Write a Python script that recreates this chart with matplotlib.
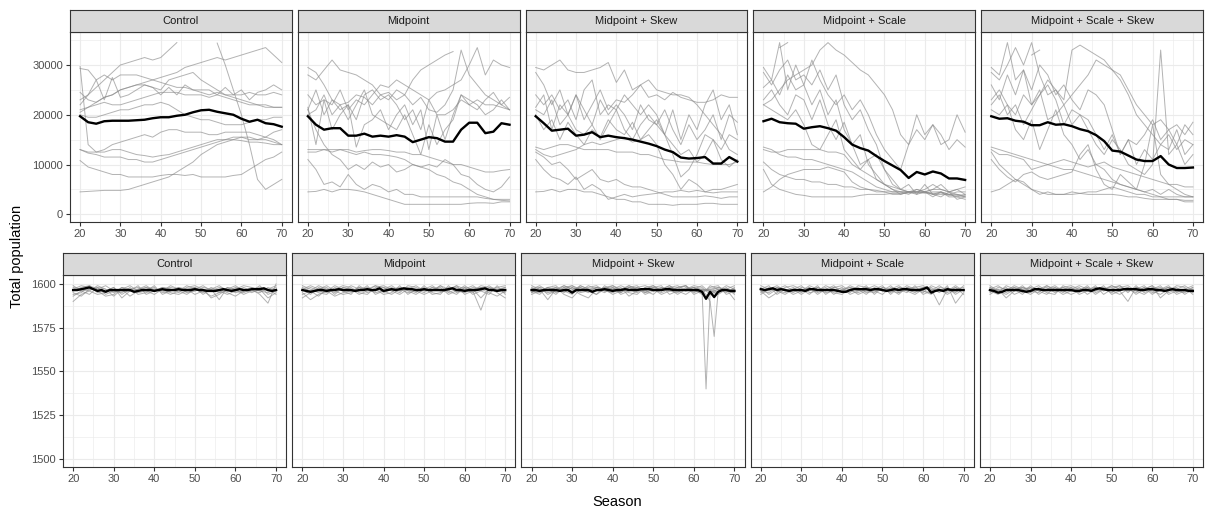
import numpy as np
import matplotlib
matplotlib.use('Agg')
import matplotlib.pyplot as plt
from matplotlib.ticker import MultipleLocator

plt.rcParams['font.family'] = ['Liberation Sans', 'DejaVu Sans']

nan = np.nan

panel_titles = ['Control', 'Midpoint', 'Midpoint + Skew', 'Midpoint + Scale', 'Midpoint + Scale + Skew']
seasons = list(range(20, 71, 2))
seasons_fine = list(range(20, 71))

# ---- top row: total population (thousands), one list per run ----
control_runs = [
    [29.7, 14, 12.5, 12.5, 13, 13, 12.5, 12, 11.8, 11.5, 11.8, 12, 12.5, 13, 13.5, 14, 14.5, 15, 15, 15, 14.8, 14.5, 14.5, 14.3, 14, 14],
    [29.3, 29, 27, 28, 27, 28, 28, 28, 27.5, 27, 26.5, 26, 25.5, 25.5, 25, 24.5, 24, 24.5, 24, 24, 24, 24.5, 24, 24, 24.5, 24],
    [23, 24, 25.5, 27, 28.5, 30, 30.5, 31, 31.5, 31, 31.5, 33, 34.5, nan, nan, nan, nan, nan, nan, nan, nan, nan, nan, nan, nan, nan],
    [nan, nan, nan, nan, nan, nan, nan, nan, nan, nan, nan, nan, nan, nan, nan, nan, nan, 34.4, 30, 25, 20, 14, 7, 5, 6, 7],
    [21, 21.5, 22.5, 23.5, 24, 25, 25.5, 26, 26.5, 27, 27.5, 28, 28.5, 29.5, 30, 30.5, 31, 31.5, 31, 31.5, 32, 32.5, 33, 33.5, 32, 30.5],
    [22, 24, 27, 23, 27.5, 23.5, 24, 25, 26, 25.5, 24, 25.5, 24, 26, 25, 25, 25, 24, 25.5, 24, 25, 23, 24.5, 25, 26, 25],
    [20.5, 21.5, 22, 22.5, 22, 22, 22.5, 23, 23.5, 24, 24.5, 24.5, 24.5, 24, 24, 24, 23.5, 24, 23.5, 23, 22.5, 22, 22, 21.5, 21.5, 21.5],
    [20, 19.5, 19.5, 20, 20.5, 21, 21, 21.5, 22, 22, 22.5, 22, 21, 20, 19.5, 19, 19, 18.5, 18, 18, 18, 18.5, 19, 19, 19.5, 19.5],
    [13, 12.5, 12.5, 13, 14, 14.5, 15, 15.5, 16, 15.5, 16.5, 17, 17, 16.5, 16.5, 16.5, 16, 16, 16.5, 16.5, 16.5, 16.5, 16, 15.5, 15, 14],
    [13, 12.3, 12, 11.5, 11.5, 11.5, 11, 11, 10.5, 10.5, 11, 11.5, 12, 12.5, 13, 13.5, 14, 14.5, 15, 15.5, 15.5, 15, 15, 15.5, 16.5, 17],
    [10.8, 9.5, 9, 8.5, 8, 8, 7.5, 7.5, 7.5, 7.5, 7.8, 8, 8, 7.8, 8, 7.5, 7.5, 7.5, 7.5, 7.8, 8, 9, 10, 11, 11.5, 12.5],
    [4.5, 4.6, 4.7, 4.8, 4.8, 4.8, 5, 5.5, 6, 6.5, 7, 7.5, 8.5, 9.5, 10.5, 12, 13, 14, 14.5, 15, 15.5, 15.5, 15, 15, 14.5, 14],
    [24.5, 23, 22.5, 23.5, 24, 25, 25.5, 26, 26, 25.5, 25, 27, 27.5, 28, 28.5, 27, 26, 25, 24, 23.5, 23, 22.5, 22, 22, 21.5, 21.5],
]
control_mean = [19.7, 18.5, 18.2, 18.7, 18.8, 18.8, 18.8, 18.9, 19.0, 19.3, 19.5, 19.5, 19.8, 20.0, 20.5, 20.9, 21.0, 20.6, 20.3, 20.0, 19.2, 18.6, 19.0, 18.3, 18.1, 17.6]

midpoint_runs = [
    [28, 27, 29, 31, 29, 28.5, 28, 27, 26, 24, 24.5, 23, 24, 22, 23.5, 21, 20.5, 22, 25, 33, 28, 26, 24, 23, 22, 21],
    [29.5, 28.5, 26, 23, 22, 22.5, 24, 23.5, 22, 24, 23, 25, 24, 27, 29, 30, 31, 32, 32.7, nan, nan, nan, nan, nan, nan, nan],
    [24, 22, 23, 22, 25, 21, 23, 22, 24, 26, 25.5, 27, 26, 25, 24, 23, 24.5, 25, 26, 27, 30, 33.5, 28, 31, 30, 29.5],
    [21, 25, 20, 23, 21, 22, 19, 24, 25, 23, 24, 22, 19, 21, 17, 23, 20, 20, 21, 23, 22, 21, 23, 24.5, 22, 23.5],
    [20, 21, 24, 20, 22, 19, 22, 25, 20, 19, 18, 17, 20, 16, 12, 18, 14, 17, 19, 24, 23, 22, 20, 21, 23, 21],
    [21.5, 14, 23, 17, 20, 22, 13.5, 18, 19, 21, 17, 20, 22, 18, 21, 13, 20, 15, 20, 24, 22, 23, 22, 22, 21.5, 21],
    [13, 13, 13, 13, 13, 13, 12.5, 12.8, 13, 13, 12.8, 12.5, 12.5, 12, 12, 11.5, 11, 10.5, 10, 10, 9.5, 9, 8.5, 8.5, 8.8, 9],
    [12.5, 12.5, 13, 12.5, 13, 12.5, 12, 12.5, 12, 12, 11.8, 11.5, 11, 10, 9.5, 9, 8, 7.5, 6.5, 6, 5, 4, 3.5, 3, 3, 3],
    [11, 9, 6, 6.5, 5.5, 8, 6, 5, 6, 5.5, 4.5, 5, 4, 4, 3.5, 3.5, 3.5, 3.5, 3.5, 3.5, 3.5, 3.5, 3.2, 3, 2.8, 2.7],
    [4.5, 4.6, 5, 4.5, 5, 5, 4.8, 4.5, 4, 3.5, 3, 2.5, 2, 2, 2, 2, 2, 2, 2, 2, 2.2, 2.3, 2.3, 2.2, 2.5, 2.5],
    [21, 17, 14, 12, 11, 9, 10, 9, 10.5, 9.5, 10, 8.5, 9, 10, 9.5, 10, 9.5, 11, 10, 8, 7.5, 6, 5, 4.5, 5.5, 7.5],
]
midpoint_mean = [19.7, 18.0, 17.0, 17.3, 17.3, 15.8, 15.8, 16.2, 15.6, 15.8, 15.6, 15.9, 15.6, 14.5, 15.0, 15.5, 15.3, 14.6, 14.6, 17.0, 18.4, 18.4, 16.3, 16.6, 18.3, 18.0]

skew_runs = [
    [29.5, 29, 30, 31, 29, 28.5, 28.5, 29, 29.5, 30.5, 26.5, 29, 25, 26, 23.5, 24, 23, 24.5, 23.5, 23, 22.5, 22.5, 23, 24, 23.5, 23.5],
    [28.5, 26, 22, 25, 20, 24, 19, 22, 25, 21, 23, 22.5, 24, 26, 27, 25, 24.5, 24, 24, 23.5, 22, 20, 18, 16, 13, 12],
    [24, 22, 24, 21, 23, 19, 25, 27, 20, 22, 21, 24, 22, 20, 22, 20, 16, 21, 15, 20, 17, 22, 25, 19, 22, 16],
    [21.5, 24, 17, 22, 20, 24, 21, 18, 23, 20, 22, 20, 17, 22, 19, 18, 21, 17, 14, 18, 15, 17, 20, 15, 20, 18.5],
    [21, 20, 23, 18, 20, 17, 16, 18, 15, 18, 21, 17, 15, 18, 20, 18, 16, 12, 7.5, 9, 12, 16, 15, 13, 16, 15],
    [13.5, 13, 13.5, 14, 14, 13.5, 13, 13, 13, 13, 12.5, 12.5, 12.5, 12, 12, 11.5, 11, 10.8, 10.5, 10.5, 10.5, 10.2, 10, 10, 10, 10.5],
    [13, 12, 11.5, 12, 12.5, 13, 14, 14.5, 14, 14.5, 15, 15.5, 14.5, 15, 16, 14, 10, 8, 5, 7, 6, 4.5, 5, 5, 5.5, 6],
    [11, 9, 7.5, 7, 6, 7.5, 5, 6, 5, 3, 3.5, 4, 3.5, 3.8, 4, 4.2, 4.5, 4.5, 4.8, 4.5, 4.8, 4.5, 4.3, 4.5, 4.5, 4.5],
    [12.5, 11.5, 10, 10.5, 9, 7, 8, 9, 7, 6.5, 7, 6, 5.5, 5.5, 5, 4.5, 4, 3.5, 3.5, 3.5, 3.5, 3.7, 3.5, 3.2, 3.5, 3.5],
    [4.5, 4.6, 5, 4.5, 5, 5, 4.5, 4.5, 4, 3.5, 3, 3, 2.5, 2.5, 2, 2, 2, 1.8, 2, 2, 2, 2.2, 2.2, 2, 2, 2],
    [20, 17, 19, 15, 18.5, 16, 14, 17, 15.5, 19, 17, 16, 18.5, 15, 17, 19, 16, 14, 12, 13, 10.5, 12, 15, 11, 9.5, 11],
]
skew_mean = [19.7, 18.3, 16.8, 17.0, 17.2, 15.8, 16.0, 16.5, 15.5, 15.8, 15.5, 15.3, 15.0, 14.6, 14.2, 13.7, 13.0, 12.5, 11.4, 11.2, 11.3, 11.5, 10.2, 10.2, 11.5, 10.6]

scale_runs = [
    [22, 23, 25, 27, 28, 29, 30, 33, 34.5, 33, 32, 30.5, 29, 28, 26, 24, 21, 16, 14, 20, 16, 18, 14, 15, 20, 16.5],
    [29.5, 27, 34.5, 25, 30, 26, 31, 27, 24, 22, 24, 21, 23, 20, 16, 13, 11, 9, 14, 17, 15, 18, 16, 13, 15, 13.5],
    [28.5, 26, 29, 31, 27, 28, 26, 29, 25, 28, 22, 19, 21, 17, 14, 9, 7, 5, 4.5, 4.5, 5, 6, 5, 4.5, 4, 3.5],
    [25.5, 27, 24, 28, 25, 26, 22, 25, 20, 23, 17, 14, 10, 11, 7, 6, 5, 4.5, 4, 5, 4.5, 3.5, 4.5, 3.5, 3.5, 3],
    [23, 25, 22, 20, 24, 23, 19, 23, 18, 15, 18.5, 14, 16, 10, 8, 6, 5, 4, 4.5, 4, 6, 4, 3.5, 4.5, 5, 4],
    [22, 21, 20, 19, 21, 18, 14, 13, 16, 19, 13, 11, 9, 11, 12, 9, 6, 5, 6, 4, 4.5, 5, 6, 4.5, 3, 3.5],
    [13, 12.5, 12.5, 13, 13, 13, 13, 13, 12.5, 12.5, 12, 10, 9, 8, 7, 6, 5.5, 5, 4.5, 4.5, 4.5, 4, 4, 4, 3.8, 3.5],
    [13.5, 13, 12, 11.5, 11.5, 11, 11, 10.5, 10, 9.5, 9, 8.5, 7.5, 6.5, 5.5, 5, 4.5, 4.5, 4.5, 5, 4.5, 5, 5, 4.5, 5, 5.5],
    [10.5, 9, 8, 7.5, 7, 7, 6.5, 6.5, 6, 6, 5.5, 5.5, 5, 5, 4.8, 4.5, 4.5, 4.5, 4.5, 4.5, 4.3, 4.5, 4.5, 4, 3.5, 4],
    [4.5, 5.5, 7, 8, 8.5, 9, 9, 9, 9.5, 9, 8.5, 6.5, 5.5, 5, 4.5, 4.5, 4, 4, 4.5, 4.5, 4.5, 4, 4.5, 4, 4.5, 4.5],
    [9, 6, 5, 4.5, 4, 3.8, 3.5, 3.5, 3.5, 3.5, 3.5, 3.5, 3.8, 4, 4, 4, 4.2, 4.2, 4.3, 4.3, 4.3, 4.2, 4.3, 3.8, 4, 3.8],
    [nan, nan, 33.5, 34.5, nan, nan, nan, nan, nan, nan, nan, nan, nan, nan, nan, nan, nan, nan, nan, nan, nan, nan, nan, nan, nan, nan],
]
scale_mean = [18.7, 19.2, 18.5, 18.3, 18.2, 17.2, 17.5, 17.7, 17.3, 16.8, 15.5, 14.0, 13.3, 12.8, 11.7, 10.7, 9.8, 8.9, 7.3, 8.5, 8.0, 8.6, 8.2, 7.2, 7.2, 6.9]

scale_skew_runs = [
    [29.5, 28, 34.5, 27, 29, 25, 30, 28, 24, 26, 23, 21, 25, 24, 22, 17, 12, 15, 14, 16, 19, 15, 17, 14, 18, 16],
    [28.5, 27, 30, 33.5, 30, 34.5, 28, 24, 25, 22, 24, 26, 28, 31, 30, 29, 28, 25, 22, 20, 18, 19, 17, 18, 16, 18.5],
    [26, 23, 28, 24, 29, 22, 24, 27, 25, 23, 33, 34, 33, 32, 31, 29, 27, 24, 20, 18, 16, 14, 16, 13, 15, 14],
    [23, 25, 22, 20, 24, 22, 25, 19, 20, 22, 18, 20, 17, 14, 12, 15, 13, 10, 9, 8, 10, 33, 12, 14, 10, 12],
    [21, 20, 22, 17, 15, 19, 13, 17, 21, 16, 14, 11, 13, 10, 9, 7, 6, 5.5, 5, 4.5, 5, 4, 5, 4, 3.5, 3.5],
    [13.5, 13, 12.5, 12, 11.5, 11, 10.5, 10, 9.5, 9, 9, 8.5, 8, 7.5, 7, 6.5, 6, 5.5, 5, 4.5, 4, 3.5, 3, 3, 2.8, 2.8],
    [13, 12, 12, 11.5, 11, 9, 9.5, 10, 10.5, 11, 10.5, 10, 9.5, 10, 10.5, 9.5, 9, 8.5, 8, 7.5, 7, 6.5, 6, 6, 5.5, 5.5],
    [11, 9, 7.5, 6.5, 8, 8.5, 7.5, 7, 7.5, 8, 8.5, 12, 14, 9, 6, 5, 8, 6.5, 5, 10, 18, 8, 6, 5, 4, 3.5],
    [4.5, 5, 6, 7, 6.5, 5, 4, 4.5, 4, 4, 4.5, 4.2, 4, 4, 4, 4, 3.8, 3.5, 3.5, 3.2, 3, 3, 3, 3, 2.5, 2.5],
    [22, 24, 20, 22, 18, 21, 24, 26, 23, 18, 21, 20, 19, 16, 13, 16, 12, 15, 10, 13, 11, 14, 13, 17, 12, 14],
    [12.5, 10, 8.5, 7, 6, 5, 4.5, 4, 4, 4, 4, 4.2, 4.5, 4.5, 5, 5.5, 5, 4.5, 4, 4, 3.5, 3.5, 3.5, 3.5, 3.5, 3.5],
    [nan, nan, nan, nan, nan, 32, 33, nan, nan, nan, nan, nan, nan, nan, nan, nan, nan, nan, nan, nan, nan, nan, nan, nan, nan, nan],
]
scale_skew_mean = [19.7, 19.2, 19.3, 18.8, 18.6, 17.9, 17.9, 18.5, 18.0, 18.1, 17.7, 17.1, 16.7, 15.9, 14.7, 12.8, 12.6, 11.8, 11.0, 10.7, 10.7, 11.7, 10.0, 9.3, 9.3, 9.4]

# ---- bottom row: total population, one list per run ----
control_runs_b = [
    [1598, 1597, 1596, 1599, 1597, 1595, 1598, 1596, 1597, 1599, 1596, 1598, 1597, 1595, 1598, 1599, 1597, 1596, 1598, 1597, 1599, 1596, 1597, 1598, 1596, 1598],
    [1595, 1593, 1597, 1598, 1594, 1596, 1597, 1593, 1596, 1597, 1598, 1595, 1596, 1598, 1597, 1594, 1596, 1597, 1595, 1598, 1596, 1595, 1597, 1596, 1595, 1597],
    [1596, 1598, 1599, 1595, 1596, 1598, 1594, 1597, 1598, 1596, 1594, 1597, 1598, 1597, 1596, 1598, 1596, 1593, 1595, 1596, 1598, 1597, 1595, 1597, 1597, 1599],
    [1593, 1596, 1597, 1597, 1599, 1596, 1595, 1598, 1594, 1595, 1597, 1596, 1594, 1596, 1599, 1597, 1595, 1598, 1596, 1594, 1596, 1598, 1596, 1599, 1594, 1596],
    [1590, 1594, 1596, 1594, 1595, 1597, 1596, 1596, 1597, 1598, 1596, 1597, 1595, 1594, 1596, 1596, 1597, 1592, 1594, 1597, 1595, 1596, 1598, 1597, 1592, 1595],
    [1597, 1599, 1598, 1596, 1593, 1594, 1598, 1597, 1595, 1596, 1599, 1594, 1596, 1598, 1595, 1596, 1598, 1597, 1599, 1596, 1597, 1594, 1596, 1595, 1598, 1596],
    [1594, 1595, 1599, 1597, 1596, 1598, 1592, 1596, 1599, 1594, 1596, 1598, 1597, 1596, 1594, 1597, 1599, 1596, 1597, 1595, 1593, 1596, 1597, 1594, 1589, 1600],
    [1599, 1596, 1594, 1598, 1597, 1593, 1597, 1599, 1596, 1598, 1597, 1596, 1599, 1597, 1597, 1598, 1594, 1597, 1591, 1598, 1597, 1599, 1598, 1596, 1597, 1594],
]
control_mean_b = [1596.5, 1596.5, 1597, 1597.5, 1598, 1597, 1596, 1596.5, 1595.5, 1596.5,
                  1596.5, 1596.5, 1596.5, 1596.5, 1596.5, 1595.5, 1596, 1596.5, 1596.5, 1596.5,
                  1596, 1596.5, 1597, 1596.5, 1596.5, 1596.5, 1597, 1596.5, 1596.5, 1596.5,
                  1597, 1596.5, 1596.5, 1596, 1596, 1596, 1596.5, 1597, 1596.5, 1596,
                  1596.5, 1597, 1596.5, 1596.5, 1597, 1597, 1597, 1597.5, 1596.5, 1596, 1596.5]

midpoint_runs_b = [
    [1597, 1594, 1598, 1596, 1599, 1597, 1596, 1598, 1595, 1597, 1598, 1596, 1594, 1597, 1599, 1596, 1598, 1597, 1596, 1599, 1597, 1595, 1598, 1596, 1597, 1598],
    [1594, 1596, 1593, 1597, 1595, 1598, 1597, 1594, 1596, 1599, 1595, 1597, 1598, 1596, 1594, 1597, 1596, 1599, 1595, 1597, 1598, 1594, 1596, 1599, 1596, 1595],
    [1599, 1597, 1595, 1594, 1598, 1596, 1599, 1597, 1598, 1596, 1597, 1599, 1596, 1598, 1597, 1595, 1598, 1596, 1598, 1596, 1595, 1597, 1592, 1597, 1598, 1599],
    [1592, 1595, 1597, 1599, 1596, 1594, 1595, 1598, 1597, 1595, 1596, 1594, 1597, 1595, 1596, 1598, 1594, 1595, 1597, 1598, 1596, 1598, 1597, 1595, 1593, 1596],
    [1596, 1598, 1596, 1595, 1597, 1599, 1598, 1595, 1594, 1598, 1599, 1597, 1595, 1599, 1598, 1596, 1597, 1598, 1594, 1596, 1599, 1596, 1585, 1598, 1597, 1597],
    [1595, 1591, 1594, 1596, 1593, 1595, 1596, 1596, 1599, 1594, 1596, 1598, 1596, 1597, 1595, 1599, 1595, 1594, 1599, 1595, 1597, 1599, 1596, 1594, 1599, 1594],
    [1598, 1596, 1599, 1597, 1597, 1596, 1594, 1599, 1596, 1597, 1594, 1595, 1599, 1594, 1597, 1597, 1599, 1596, 1596, 1594, 1598, 1597, 1598, 1597, 1596, 1598],
    [1597, 1599, 1597, 1598, 1594, 1598, 1597, 1596, 1597, 1599, 1598, 1596, 1597, 1598, 1596, 1594, 1596, 1599, 1597, 1599, 1594, 1596, 1599, 1598, 1595, 1592],
]
midpoint_mean_b = [1596.5, 1596, 1595.5, 1596, 1596.5, 1596.5, 1596, 1596.5, 1596.5, 1597,
                   1596.5, 1596.5, 1596.5, 1596, 1596.5, 1596.5, 1597, 1596.5, 1596.5, 1597.5,
                   1596, 1596.5, 1597, 1596.5, 1597, 1597.5, 1597, 1597, 1596.5, 1596.5,
                   1597, 1596.5, 1596.5, 1596.5, 1596.5, 1596.5, 1597, 1597.5, 1596.5, 1596.5,
                   1596, 1596.5, 1596.5, 1596.5, 1597, 1597.5, 1596.5, 1596.5, 1596, 1596.5, 1596.5]

skew_runs_b = [
    [1598, 1596, 1597, 1594, 1598, 1596, 1599, 1597, 1596, 1598, 1597, 1595, 1598, 1596, 1597, 1599, 1596, 1598, 1597, 1596, 1598, 1597, 1596, 1598, 1597, 1599],
    [1595, 1597, 1591, 1597, 1596, 1598, 1595, 1596, 1598, 1597, 1599, 1596, 1597, 1595, 1598, 1596, 1597, 1599, 1596, 1594, 1597, 1599, 1595, 1597, 1596, 1597],
    [1597, 1599, 1596, 1598, 1594, 1592, 1597, 1598, 1599, 1596, 1595, 1597, 1599, 1597, 1596, 1594, 1598, 1596, 1595, 1598, 1596, 1595, 1598, 1599, 1594, 1596],
    [1596, 1594, 1598, 1597, 1599, 1597, 1594, 1592, 1597, 1595, 1598, 1594, 1596, 1598, 1599, 1597, 1595, 1597, 1598, 1599, 1594, 1596, 1597, 1595, 1598, 1594],
    [1599, 1597, 1595, 1596, 1597, 1595, 1598, 1596, 1594, 1599, 1596, 1598, 1593, 1596, 1597, 1598, 1599, 1594, 1596, 1597, 1599, 1598, 1594, 1596, 1599, 1597],
    [1594, 1596, 1598, 1599, 1595, 1598, 1596, 1599, 1597, 1596, 1597, 1599, 1597, 1598, 1594, 1596, 1597, 1598, 1599, 1596, 1597, 1594, 1599, 1597, 1595, 1598],
    [1597, 1598, 1594, 1596, 1598, 1599, 1597, 1595, 1598, 1597, 1594, 1596, 1598, 1599, 1595, 1597, 1594, 1596, 1598, 1599, 1595, 1597, 1596, 1594, 1597, 1591],
    [1596, 1595, 1597, 1598, 1596, 1594, 1599, 1597, 1596, 1598, 1599, 1597, 1595, 1594, 1598, 1599, 1596, 1597, 1594, 1597, 1598, 1596, 1597, 1598, 1596, 1595],
]
# two runs that crash around season 63-65
crash_seasons = list(range(20, 61, 2)) + [61, 62, 63, 64, 65, 66, 68, 70]
crash_runs_b = [
    [1597, 1596, 1598, 1595, 1597, 1599, 1596, 1597, 1598, 1596, 1597, 1595, 1598, 1597, 1596, 1598, 1597, 1599, 1596, 1597, 1598,
     1596, 1597, 1540, 1595, 1596, 1597, 1596, 1597],
    [1595, 1598, 1597, 1596, 1599, 1597, 1598, 1596, 1594, 1597, 1598, 1596, 1599, 1597, 1595, 1597, 1598, 1596, 1597, 1599, 1596,
     1597, 1596, 1594, 1590, 1570, 1596, 1597, 1595],
]
skew_mean_b = [1596.5, 1596.5, 1596, 1596.5, 1596.5, 1596.5, 1596.5, 1596, 1596.5, 1596.5,
               1595, 1596.5, 1596.5, 1596.5, 1596.5, 1595.5, 1596.5, 1596.5, 1597, 1596.5,
               1596, 1596.5, 1596.5, 1597, 1596.5, 1596.5, 1596.5, 1597, 1597, 1597,
               1596.5, 1596.5, 1596.5, 1597, 1597, 1596.5, 1596.5, 1596.5, 1596.5, 1596.5,
               1596.5, 1596.5, 1595.5, 1591.5, 1595.5, 1592.5, 1595.5, 1596.5, 1596.5, 1596, 1596]

scale_runs_b = [
    [1597, 1596, 1598, 1597, 1595, 1598, 1597, 1596, 1599, 1597, 1596, 1598, 1597, 1596, 1595, 1598, 1597, 1599, 1596, 1597, 1598, 1596, 1597, 1595, 1598, 1596],
    [1595, 1598, 1596, 1594, 1597, 1596, 1599, 1597, 1595, 1596, 1598, 1594, 1596, 1598, 1597, 1596, 1599, 1595, 1597, 1598, 1599, 1597, 1588, 1597, 1596, 1597],
    [1598, 1594, 1597, 1599, 1596, 1597, 1594, 1598, 1596, 1598, 1599, 1596, 1595, 1597, 1599, 1597, 1595, 1598, 1596, 1594, 1597, 1598, 1595, 1599, 1589, 1595],
    [1594, 1597, 1599, 1596, 1598, 1595, 1598, 1594, 1597, 1595, 1594, 1597, 1598, 1595, 1596, 1594, 1598, 1596, 1599, 1597, 1595, 1599, 1597, 1594, 1597, 1598],
    [1596, 1592, 1595, 1598, 1599, 1597, 1596, 1599, 1594, 1597, 1596, 1599, 1597, 1594, 1598, 1596, 1597, 1594, 1598, 1596, 1596, 1594, 1598, 1597, 1595, 1599],
    [1599, 1597, 1596, 1595, 1597, 1599, 1595, 1596, 1598, 1594, 1597, 1595, 1599, 1598, 1596, 1597, 1596, 1597, 1595, 1599, 1594, 1596, 1599, 1596, 1598, 1594],
    [1597, 1599, 1594, 1597, 1594, 1596, 1598, 1595, 1597, 1599, 1595, 1597, 1594, 1596, 1597, 1599, 1594, 1598, 1597, 1595, 1598, 1597, 1596, 1598, 1594, 1597],
    [1596, 1595, 1598, 1596, 1597, 1594, 1597, 1598, 1596, 1598, 1597, 1598, 1596, 1599, 1594, 1598, 1596, 1595, 1598, 1597, 1596, 1595, 1597, 1596, 1599, 1596],
]
scale_mean_b = [1597, 1596.5, 1597, 1597.5, 1596.5, 1597, 1596.5, 1596, 1596.5, 1596.5,
                1596.5, 1596, 1597, 1597, 1596.5, 1596.5, 1596.5, 1596.5, 1596.5, 1596,
                1595.5, 1595.5, 1596.5, 1597, 1597, 1597, 1597, 1596.5, 1597, 1597,
                1596.5, 1596, 1596.5, 1597, 1596.5, 1597, 1597, 1596.5, 1596.5, 1596.5,
                1597, 1598, 1595, 1596, 1596.5, 1596, 1597, 1596.5, 1596.5, 1596.5, 1596.5]

scale_skew_runs_b = [
    [1598, 1596, 1594, 1597, 1598, 1596, 1597, 1599, 1596, 1597, 1598, 1596, 1597, 1598, 1596, 1599, 1597, 1596, 1598, 1597, 1599, 1596, 1598, 1597, 1596, 1598],
    [1596, 1594, 1597, 1598, 1595, 1599, 1596, 1594, 1598, 1596, 1597, 1595, 1598, 1596, 1597, 1595, 1598, 1599, 1596, 1594, 1597, 1598, 1595, 1597, 1599, 1596],
    [1594, 1597, 1592, 1596, 1598, 1597, 1599, 1596, 1597, 1594, 1596, 1598, 1594, 1597, 1598, 1596, 1594, 1597, 1595, 1598, 1596, 1594, 1597, 1598, 1594, 1597],
    [1599, 1596, 1598, 1594, 1596, 1594, 1597, 1598, 1595, 1598, 1599, 1597, 1596, 1599, 1594, 1597, 1596, 1590, 1598, 1596, 1598, 1597, 1599, 1595, 1597, 1595],
    [1597, 1599, 1596, 1599, 1597, 1598, 1594, 1597, 1599, 1596, 1594, 1596, 1599, 1595, 1597, 1598, 1599, 1596, 1597, 1599, 1595, 1596, 1598, 1596, 1595, 1598],
    [1595, 1598, 1597, 1596, 1599, 1595, 1598, 1595, 1594, 1599, 1597, 1599, 1597, 1596, 1599, 1594, 1596, 1598, 1594, 1597, 1599, 1592, 1596, 1599, 1598, 1594],
    [1598, 1595, 1599, 1597, 1594, 1598, 1596, 1597, 1598, 1595, 1598, 1594, 1596, 1598, 1596, 1597, 1599, 1595, 1599, 1595, 1597, 1599, 1594, 1596, 1597, 1599],
    [1596, 1597, 1595, 1598, 1597, 1596, 1595, 1599, 1597, 1598, 1596, 1597, 1598, 1594, 1597, 1599, 1597, 1598, 1596, 1598, 1594, 1597, 1598, 1594, 1596, 1597],
]
scale_skew_mean_b = [1596.5, 1596, 1595, 1595.5, 1596.5, 1596.5, 1596.5, 1596.5, 1596, 1595.5,
                     1596, 1597, 1597, 1596.5, 1596.5, 1596.5, 1596.5, 1596.5, 1596.5, 1596.5,
                     1596.5, 1596, 1596, 1596.5, 1596.5, 1596, 1597, 1597.5, 1597, 1596.5,
                     1596.5, 1596.5, 1596.5, 1597, 1597, 1597, 1597, 1596.5, 1596.5, 1597,
                     1597, 1596.5, 1596.5, 1596, 1596.5, 1597, 1596.5, 1596.5, 1596.5, 1596, 1596]

W, H = 1208, 511
GRID = '#EBEBEB'
DARK = '#333333'


def draw_panel(fig, left, top, bottom, width, title, runs, mean, mean_x, ylim, ystep, show_y, scale=1.0, extra=()):
    ax = fig.add_axes([left / W, 1 - bottom / H, width / W, (bottom - top) / H])
    ax.set_xlim(17.5, 72.5)
    ax.set_ylim(*ylim)
    ax.xaxis.set_major_locator(MultipleLocator(10))
    ax.xaxis.set_minor_locator(MultipleLocator(5))
    ax.yaxis.set_major_locator(MultipleLocator(ystep))
    ax.yaxis.set_minor_locator(MultipleLocator(ystep / 2))
    ax.ticklabel_format(axis='y', style='plain', useOffset=False)
    ax.grid(which='major', color=GRID, lw=0.8)
    ax.grid(which='minor', color=GRID, lw=0.45)
    ax.set_axisbelow(True)
    for r in runs:
        ax.plot(seasons, np.array(r) * scale, color='#8a8a8a', alpha=0.65, lw=0.7)
    for xs, r in extra:
        ax.plot(xs, np.array(r) * scale, color='#8a8a8a', alpha=0.65, lw=0.7)
    ax.plot(mean_x, np.array(mean) * scale, color='black', lw=1.7)
    for sp in ax.spines.values():
        sp.set_color(DARK)
        sp.set_linewidth(0.8)
    ax.tick_params(which='major', length=3, width=0.8, color=DARK, labelcolor='#4D4D4D', labelsize=8, pad=2)
    ax.tick_params(which='minor', length=0)
    if not show_y:
        ax.tick_params(axis='y', which='both', left=False, labelleft=False)

    # facet strip
    st = fig.add_axes([left / W, 1 - top / H, width / W, 22 / H])
    st.set_facecolor('#D9D9D9')
    st.set_xticks([])
    st.set_yticks([])
    for sp in st.spines.values():
        sp.set_color(DARK)
        sp.set_linewidth(0.8)
    st.text(0.5, 0.48, title, ha='center', va='center', fontsize=8, color='#1A1A1A', transform=st.transAxes)
    return ax


fig = plt.figure(figsize=(W / 100, H / 100), dpi=100)

top_runs = [control_runs, midpoint_runs, skew_runs, scale_runs, scale_skew_runs]
top_means = [control_mean, midpoint_mean, skew_mean, scale_mean, scale_skew_mean]
for i in range(5):
    draw_panel(fig, 70 + i * 227.8, 32, 222, 221.8, panel_titles[i], top_runs[i], top_means[i], seasons,
               (-1550, 36630), 10000, i == 0, scale=1000)

bottom_runs = [control_runs_b, midpoint_runs_b, skew_runs_b, scale_runs_b, scale_skew_runs_b]
bottom_means = [control_mean_b, midpoint_mean_b, skew_mean_b, scale_mean_b, scale_skew_mean_b]
for i in range(5):
    extra = [(crash_seasons, r) for r in crash_runs_b] if i == 2 else ()
    draw_panel(fig, 63 + i * 229.2, 275, 467, 223.2, panel_titles[i], bottom_runs[i], bottom_means[i], seasons_fine,
               (1495.4, 1605.1), 25, i == 0, extra=extra)

fig.text(17 / W, 1 - 256 / H, 'Total population', rotation=90, ha='center', va='center', fontsize=10.5)
fig.text(617 / W, 1 - 502 / H, 'Season', ha='center', va='center', fontsize=10.5)

fig.savefig('out.png', dpi=100)
